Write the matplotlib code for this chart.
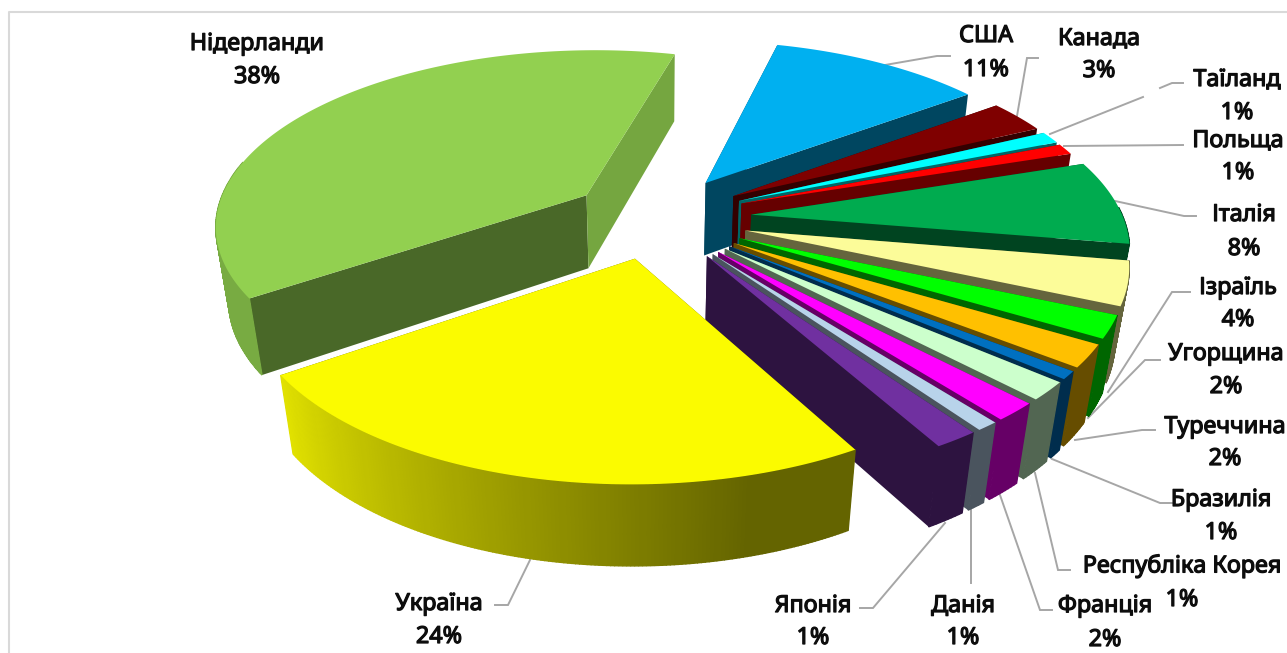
import numpy as np
import matplotlib
matplotlib.use('Agg')
import matplotlib.pyplot as plt
from matplotlib.patches import Polygon
import matplotlib.patheffects as pe

countries = ['США', 'Канада', 'Таїланд', 'Польща', 'Італія', 'Ізраїль', 'Угорщина', 'Туреччина',
             'Бразилія', 'Республіка Корея', 'Франція', 'Данія', 'Японія', 'Україна', 'Нідерланди']
shares = [11.0, 3.0, 1.1, 1.0, 7.6, 3.9, 2.0, 2.0, 0.7, 1.6, 1.6, 0.8, 1.6, 23.9, 38.7]
labels = ['11%', '3%', '1%', '1%', '8%', '4%', '2%', '2%', '1%', '1%', '2%', '1%', '1%', '24%', '38%']
colors = ['#00B0F0', '#7F0000', '#00FFFF', '#FF0000', '#00AB4F', '#FCFC99', '#00FF00', '#FFC000',
          '#0070C0', '#CCFFCC', '#FF00FF', '#B8D3EA', '#7030A0', '#FBFB00', '#92D050']
explode = [0.25, 0.25, 0.25, 0.25, 0.26, 0.25, 0.25, 0.25, 0.25, 0.25, 0.25, 0.25, 0.25, 0.23, 0.23]

label_x = [986, 1099, 1237, 1238, 1244, 1238, 1226, 1225, 1221, 1182, 1105, 963, 813, 439, 257]
name_y = [36, 39, 80, 141, 215, 288, 354, 427, 500, 566, 606, 606, 606, 604, 44]
pct_y = [70, 71, 113, 173, 249, 320, 387, 459, 533, 600, 640, 638, 638, 637, 77]
leaders = [
    [(885, 65), (937, 56), (950, 56)],
    [(1017, 116), (1027, 58), (1038, 58)],
    [(1050, 134), (1143, 97)],
    [(1064, 146), (1183, 145)],
    [(1115, 201), (1184, 216), (1196, 216)],
    [(1108, 392), (1172, 292), (1190, 292)],
    [(1088, 418), (1145, 360), (1160, 360)],
    [(1075, 440), (1142, 430), (1155, 430)],
    [(1052, 459), (1160, 503), (1172, 503)],
    [(1035, 473), (1058, 570), (1070, 570)],
    [(1000, 495), (1040, 610), (1052, 610)],
    [(971, 510), (971, 583)],
    [(945, 523), (873, 608), (860, 608)],
    [(530, 560), (508, 605), (495, 605)],
    [(1160, 88), (1172, 83), (1183, 83)],
]

start_angle = 14.5
CX, CY = 655, 218
RX, RY = 372, 175
K, M = 0.16, 0.03
DEPTH = 76


def project(u, v, z):
    s = 1 / (1 + K * v + M * z)
    return CX + RX * u * s, CY + (-RY * v + DEPTH * z) * s


def shade(color, f):
    rgb = np.array(matplotlib.colors.to_rgb(color))
    return tuple(rgb * f)


def outer_shade(t):
    # lit from the left, the walls on the right are dark
    t = t % 360
    if t < 165:
        return 0.4
    if t < 236:
        return 0.4 + 0.5 * (t - 165) / 71
    return 0.82


fig = plt.figure(figsize=(12.87, 6.53), dpi=100)
ax = fig.add_axes([0, 0, 1, 1])
ax.set_xlim(0, 1287)
ax.set_ylim(653, 0)
ax.axis('off')

ax.plot([9, 9, 1287], [653, 12, 12], color='#D9D9D9', lw=1.5)

for pts in leaders:
    ax.plot(*zip(*pts), color='#A6A6A6', lw=1.4, solid_joinstyle='miter')

edges = start_angle + np.cumsum([0] + shares) * 360 / sum(shares)

for i in [14] + list(range(14)):
    a, b = edges[i], edges[i + 1]
    mid = np.radians((a + b) / 2)
    eu, ev = explode[i] * np.sin(mid), explode[i] * np.cos(mid)
    th = np.radians(np.linspace(a, b, max(int(b - a) * 2, 4)))
    us, vs = eu + np.sin(th), ev + np.cos(th)

    # radial walls
    for t, f in [(a, 0.5 if i == 14 else 0.4), (b, 0.8 if i == 14 else 0.4)]:
        r = np.radians(t)
        p = [project(eu, ev, 0), project(eu + np.sin(r), ev + np.cos(r), 0),
             project(eu + np.sin(r), ev + np.cos(r), 1), project(eu, ev, 1)]
        ax.add_patch(Polygon(p, closed=True, fc=shade(colors[i], f), ec='none', zorder=3))

    # outer wall, small pieces so it can have a gradient
    for j in range(len(th) - 1):
        # back of the pie is hidden by the top
        limit = 0.05 if np.sin(th[j]) > 0 else 0.2
        if np.cos(th[j]) > limit:
            continue
        p = [project(us[j], vs[j], 0), project(us[j + 1], vs[j + 1], 0),
             project(us[j + 1], vs[j + 1], 1), project(us[j], vs[j], 1)]
        c = shade(colors[i], 0.82 if i == 14 else outer_shade(np.degrees(th[j])))
        ax.add_patch(Polygon(p, closed=True, fc=c, ec=c, lw=1.0, zorder=3))

    top = [project(eu, ev, 0)] + [project(u, v, 0) for u, v in zip(us, vs)]
    ax.add_patch(Polygon(top, closed=True, fc=colors[i], ec='none', zorder=3))

font = ['Noto Sans', 'DejaVu Sans']
bold = [pe.withStroke(linewidth=0.9, foreground='#0D0D0D')]
for i in range(len(countries)):
    ax.text(label_x[i], name_y[i], countries[i], ha='center', va='center', family=font,
            fontsize=16.8, color='#0D0D0D', zorder=5, path_effects=bold)
    ax.text(label_x[i], pct_y[i], labels[i], ha='center', va='center', family=font,
            fontsize=16.8, color='#0D0D0D', zorder=5, path_effects=bold)

fig.savefig('out.png', dpi=100)
